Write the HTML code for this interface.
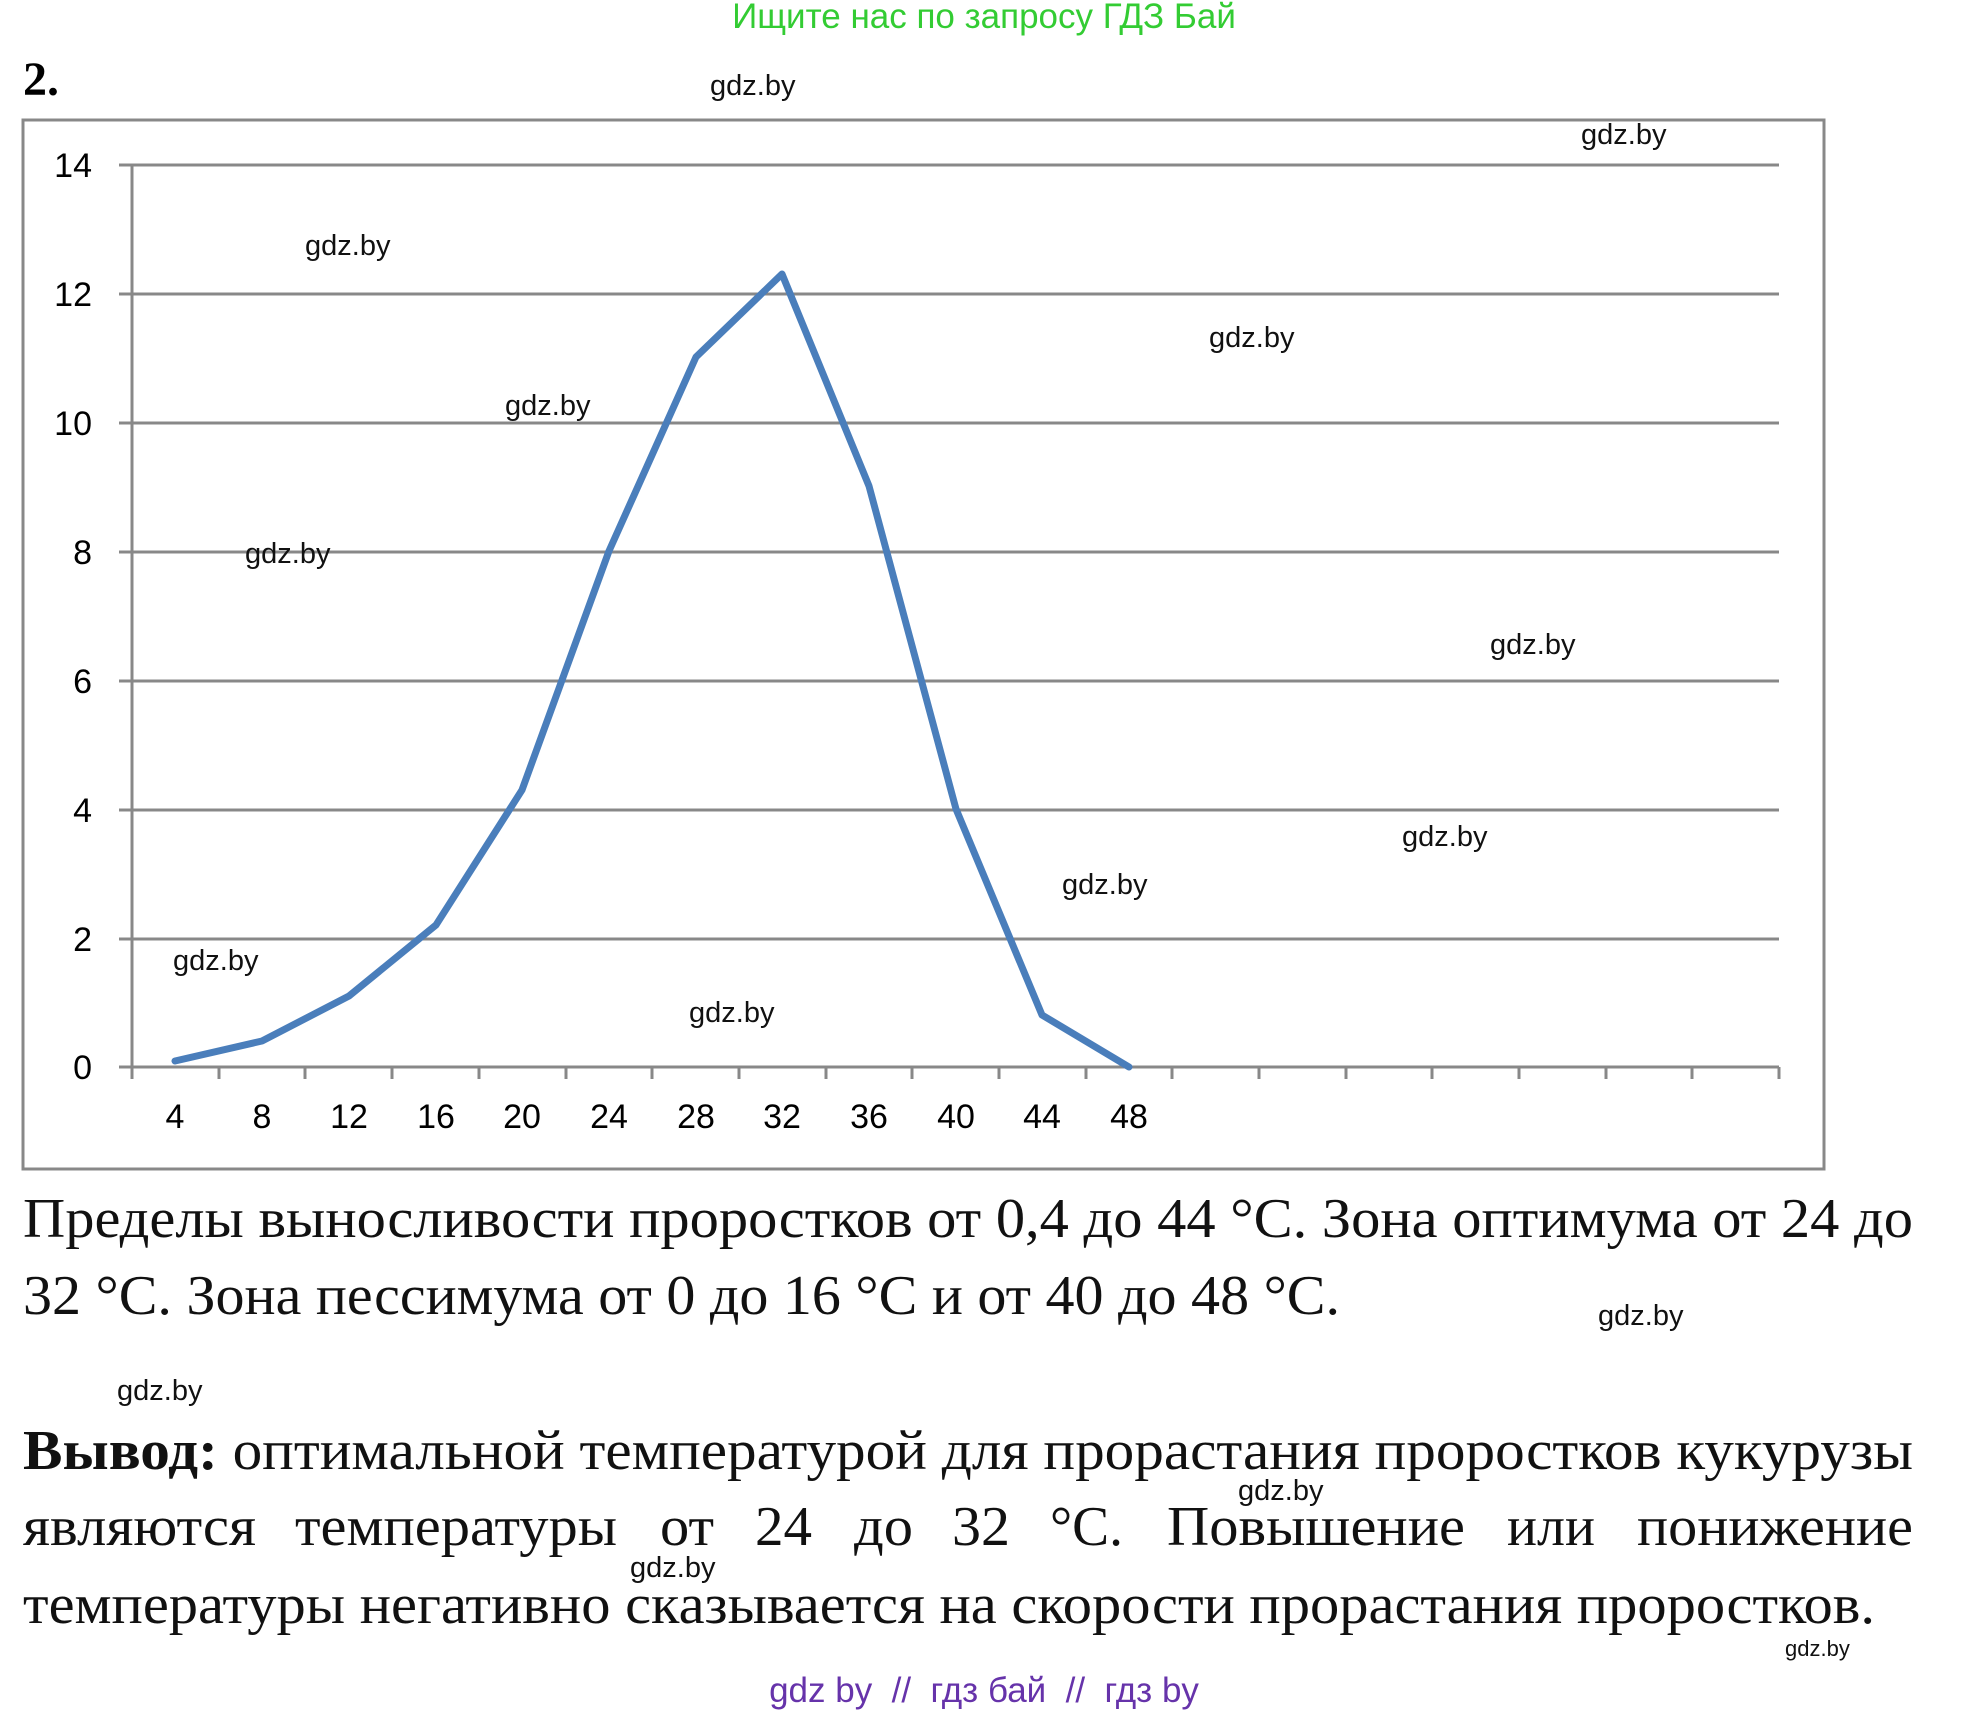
<!DOCTYPE html>
<html><head><meta charset="utf-8"><style>
body{margin:0;background:#fff;}
.w text{font-family:"Liberation Sans",sans-serif;font-size:29px;fill:#111;}
.s text{font-family:"Liberation Serif",serif;font-size:56px;fill:#111;}
.ax text{font-family:"Liberation Sans",sans-serif;font-size:34px;fill:#000;}
</style></head><body>
<svg width="1970" height="1718" viewBox="0 0 1970 1718" xmlns="http://www.w3.org/2000/svg">
<text x="984" y="28" text-anchor="middle" style="font-family:'Liberation Sans',sans-serif;font-size:35px;fill:#33cc33">Ищите нас по запросу ГДЗ Бай</text>
<text x="23" y="95" style="font-family:'Liberation Serif',serif;font-weight:bold;font-size:48px">2.</text>
<rect x="23" y="120" width="1801" height="1049" fill="none" stroke="#888" stroke-width="3"/>
<g stroke="#888" stroke-width="3">
<line x1="119" y1="165" x2="1779" y2="165"/>
<line x1="119" y1="294" x2="1779" y2="294"/>
<line x1="119" y1="423" x2="1779" y2="423"/>
<line x1="119" y1="552" x2="1779" y2="552"/>
<line x1="119" y1="681" x2="1779" y2="681"/>
<line x1="119" y1="810" x2="1779" y2="810"/>
<line x1="119" y1="939" x2="1779" y2="939"/>
<line x1="119" y1="1067" x2="1779" y2="1067"/>
<line x1="132" y1="165" x2="132" y2="1079"/>
<line x1="219" y1="1067" x2="219" y2="1079"/><line x1="305" y1="1067" x2="305" y2="1079"/><line x1="392" y1="1067" x2="392" y2="1079"/><line x1="479" y1="1067" x2="479" y2="1079"/><line x1="566" y1="1067" x2="566" y2="1079"/><line x1="652" y1="1067" x2="652" y2="1079"/><line x1="739" y1="1067" x2="739" y2="1079"/><line x1="826" y1="1067" x2="826" y2="1079"/><line x1="912" y1="1067" x2="912" y2="1079"/><line x1="999" y1="1067" x2="999" y2="1079"/><line x1="1086" y1="1067" x2="1086" y2="1079"/><line x1="1172" y1="1067" x2="1172" y2="1079"/><line x1="1259" y1="1067" x2="1259" y2="1079"/><line x1="1346" y1="1067" x2="1346" y2="1079"/><line x1="1432" y1="1067" x2="1432" y2="1079"/><line x1="1519" y1="1067" x2="1519" y2="1079"/><line x1="1606" y1="1067" x2="1606" y2="1079"/><line x1="1692" y1="1067" x2="1692" y2="1079"/><line x1="1779" y1="1067" x2="1779" y2="1079"/>
</g>
<g class="ax" text-anchor="end">
<text x="92" y="177">14</text><text x="92" y="306">12</text><text x="92" y="435">10</text><text x="92" y="564">8</text><text x="92" y="693">6</text><text x="92" y="822">4</text><text x="92" y="951">2</text><text x="92" y="1079">0</text>
</g>
<g class="ax" text-anchor="middle">
<text x="175" y="1128">4</text><text x="262" y="1128">8</text><text x="349" y="1128">12</text><text x="436" y="1128">16</text><text x="522" y="1128">20</text><text x="609" y="1128">24</text><text x="696" y="1128">28</text><text x="782" y="1128">32</text><text x="869" y="1128">36</text><text x="956" y="1128">40</text><text x="1042" y="1128">44</text><text x="1129" y="1128">48</text>
</g>
<polyline fill="none" stroke="#4a7ebb" stroke-width="7" stroke-linejoin="round" stroke-linecap="round"
points="175,1061 262,1041 349,996 436,925 522,790 609,551 696,357 782,274 869,486 956,809 1042,1015 1129,1067"/>
<g class="s">
<text x="23" y="1237" textLength="1890" lengthAdjust="spacingAndGlyphs">Пределы выносливости проростков от 0,4 до 44 °С. Зона оптимума от 24 до</text>
<text x="23" y="1314" textLength="1317" lengthAdjust="spacingAndGlyphs">32 °С. Зона пессимума от 0 до 16 °С и от 40 до 48 °С.</text>
<text x="23" y="1469" textLength="1890" lengthAdjust="spacingAndGlyphs"><tspan font-weight="bold">Вывод:</tspan> оптимальной температурой для прорастания проростков кукурузы</text>
<text x="23" y="1545" textLength="233" lengthAdjust="spacingAndGlyphs">являются</text>
<text x="295" y="1545" textLength="322" lengthAdjust="spacingAndGlyphs">температуры</text>
<text x="660" y="1545" textLength="54" lengthAdjust="spacingAndGlyphs">от</text>
<text x="755" y="1545" textLength="57" lengthAdjust="spacingAndGlyphs">24</text>
<text x="854" y="1545" textLength="59" lengthAdjust="spacingAndGlyphs">до</text>
<text x="952" y="1545" textLength="58" lengthAdjust="spacingAndGlyphs">32</text>
<text x="1050" y="1545" textLength="73" lengthAdjust="spacingAndGlyphs">°С.</text>
<text x="1167" y="1545" textLength="298" lengthAdjust="spacingAndGlyphs">Повышение</text>
<text x="1507" y="1545" textLength="88" lengthAdjust="spacingAndGlyphs">или</text>
<text x="1637" y="1545" textLength="276" lengthAdjust="spacingAndGlyphs">понижение</text>
<text x="23" y="1623" textLength="1852" lengthAdjust="spacingAndGlyphs">температуры негативно сказывается на скорости прорастания проростков.</text>
</g>
<g class="w">
<text x="710" y="95">gdz.by</text><text x="1581" y="144">gdz.by</text><text x="305" y="255">gdz.by</text><text x="1209" y="347">gdz.by</text><text x="505" y="415">gdz.by</text><text x="245" y="563">gdz.by</text><text x="1490" y="654">gdz.by</text><text x="1402" y="846">gdz.by</text><text x="1062" y="894">gdz.by</text><text x="173" y="970">gdz.by</text><text x="689" y="1022">gdz.by</text><text x="1598" y="1325">gdz.by</text><text x="117" y="1400">gdz.by</text><text x="1238" y="1500">gdz.by</text><text x="630" y="1577">gdz.by</text>
<text x="1785" y="1656" style="font-size:22px">gdz.by</text>
</g>
<text x="984" y="1702" text-anchor="middle" style="font-family:'Liberation Sans',sans-serif;font-size:35px;fill:#6633aa;white-space:pre" xml:space="preserve">gdz by  //  гдз бай  //  гдз by</text>
</svg>
</body></html>
